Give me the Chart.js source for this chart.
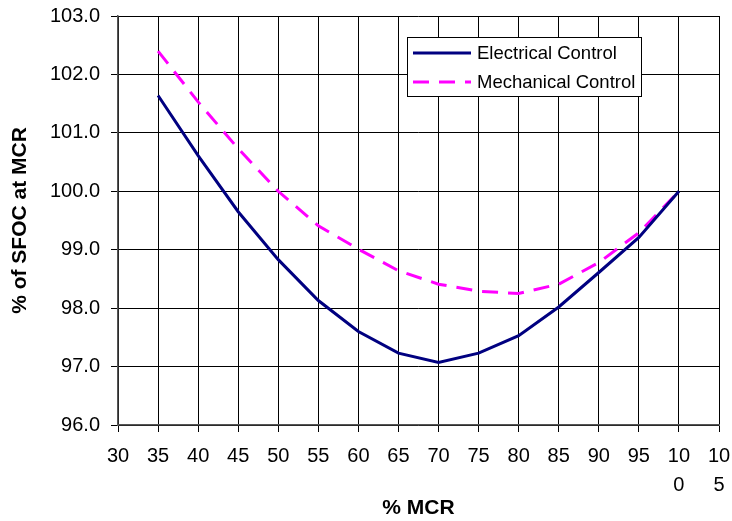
<!DOCTYPE html>
<html>
<head>
<meta charset="utf-8">
<script src="https://cdn.jsdelivr.net/npm/chart.js@4/dist/chart.umd.min.js"></script>
<style>
  html, body { margin: 0; padding: 0; background: #fff; }
  #wrap { width: 732px; height: 521px; position: relative; }
</style>
</head>
<body>
<div id="wrap"><canvas id="c" width="732" height="521"></canvas></div>
<script>
const mcrPercent = [35, 40, 45, 50, 55, 60, 65, 70, 75, 80, 85, 90, 95, 100];
const electricalControl = [101.64, 100.61, 99.65, 98.83, 98.13, 97.60, 97.23, 97.07, 97.23, 97.53, 98.02, 98.61, 99.21, 100.00];
const mechanicalControl = [102.40, 101.53, 100.73, 100.00, 99.41, 99.01, 98.64, 98.41, 98.29, 98.25, 98.41, 98.78, 99.29, 100.00];
const xTickValues = [30, 35, 40, 45, 50, 55, 60, 65, 70, 75, 80, 85, 90, 95, 100, 105];
const xTickLabels = ['30', '35', '40', '45', '50', '55', '60', '65', '70', '75', '80', '85', '90', '95', ['10', '0'], ['10', '5']];
const yTickValues = [96, 97, 98, 99, 100, 101, 102, 103];
const yTickLabels = ['96.0', '97.0', '98.0', '99.0', '100.0', '101.0', '102.0', '103.0'];
const seriesNames = ['Electrical Control', 'Mechanical Control'];

const FONT = "'Liberation Sans', Arial, sans-serif";

function zeroPad(scale) {
  scale.paddingTop = 0; scale.paddingBottom = 0;
  scale.paddingLeft = 0; scale.paddingRight = 0;
}

const boxLegend = {
  id: 'boxLegend',
  afterDraw(chart) {
    const ctx = chart.ctx;
    const x0 = 407, y0 = 37, w = 234, h = 59;
    ctx.save();
    ctx.fillStyle = '#fff';
    ctx.fillRect(x0, y0, w, h);
    ctx.strokeStyle = '#000';
    ctx.lineWidth = 1;
    ctx.strokeRect(x0 + 0.5, y0 + 0.5, w, h);
    const rows = [53, 82];
    chart.data.datasets.forEach((ds, i) => {
      const y = rows[i];
      ctx.beginPath();
      ctx.strokeStyle = ds.borderColor;
      ctx.lineWidth = ds.borderWidth;
      ctx.setLineDash(ds.borderDash || []);
      ctx.moveTo(413, y);
      ctx.lineTo(471, y);
      ctx.stroke();
      ctx.setLineDash([]);
      ctx.fillStyle = '#000';
      ctx.font = '18.5px ' + FONT;
      ctx.textBaseline = 'middle';
      ctx.textAlign = 'left';
      ctx.fillText(ds.label, 477, y + 1);
    });
    ctx.restore();
  }
};

new Chart(document.getElementById('c'), {
  type: 'line',
  data: {
    datasets: [
      {
        label: seriesNames[0],
        data: mcrPercent.map((x, i) => ({ x, y: electricalControl[i] })),
        borderColor: '#000080',
        borderWidth: 3,
        pointRadius: 0,
        tension: 0,
        fill: false
      },
      {
        label: seriesNames[1],
        data: mcrPercent.map((x, i) => ({ x, y: mechanicalControl[i] })),
        borderColor: '#FF00FF',
        borderWidth: 3,
        borderDash: [16, 10],
        pointRadius: 0,
        tension: 0,
        fill: false
      }
    ]
  },
  options: {
    responsive: false,
    animation: false,
    layout: { padding: { top: 16, right: 13, left: 0, bottom: 0 } },
    plugins: { legend: { display: false }, tooltip: { enabled: false } },
    scales: {
      x: {
        type: 'linear',
        min: 30, max: 105,
        afterBuildTicks(scale) { scale.ticks = xTickValues.map(v => ({ value: v })); },
        afterFit(scale) { scale.height = 96; zeroPad(scale); },
        ticks: {
          color: '#000',
          font: { family: FONT, size: 20, lineHeight: 1.45 },
          padding: 10,
          maxRotation: 0,
          autoSkip: false,
          callback(v) { const i = xTickValues.indexOf(v); return i >= 0 ? xTickLabels[i] : ''; }
        },
        grid: { color: '#000', lineWidth: 1, tickLength: 7, drawTicks: true },
        border: { display: true, color: '#555', width: 1.5 },
        title: {
          display: true, text: '% MCR', color: '#000',
          font: { family: FONT, size: 21, weight: 'bold' },
          padding: { top: 0, bottom: 0 }
        }
      },
      y: {
        type: 'linear',
        min: 96, max: 103,
        afterBuildTicks(scale) { scale.ticks = yTickValues.map(v => ({ value: v })); },
        afterFit(scale) { scale.width = 118; zeroPad(scale); },
        ticks: {
          color: '#000',
          font: { family: FONT, size: 20 },
          padding: 11,
          callback(v) { const i = yTickValues.indexOf(v); return i >= 0 ? yTickLabels[i] : ''; }
        },
        grid: { color: '#000', lineWidth: 1, tickLength: 7, drawTicks: true },
        border: { display: true, color: '#555', width: 1.5 },
        title: {
          display: true, text: '% of SFOC at MCR', color: '#000',
          font: { family: FONT, size: 21, weight: 'bold' },
          padding: { top: 8, bottom: 0 }
        }
      }
    }
  },
  plugins: [boxLegend]
});
</script>
</body>
</html>
